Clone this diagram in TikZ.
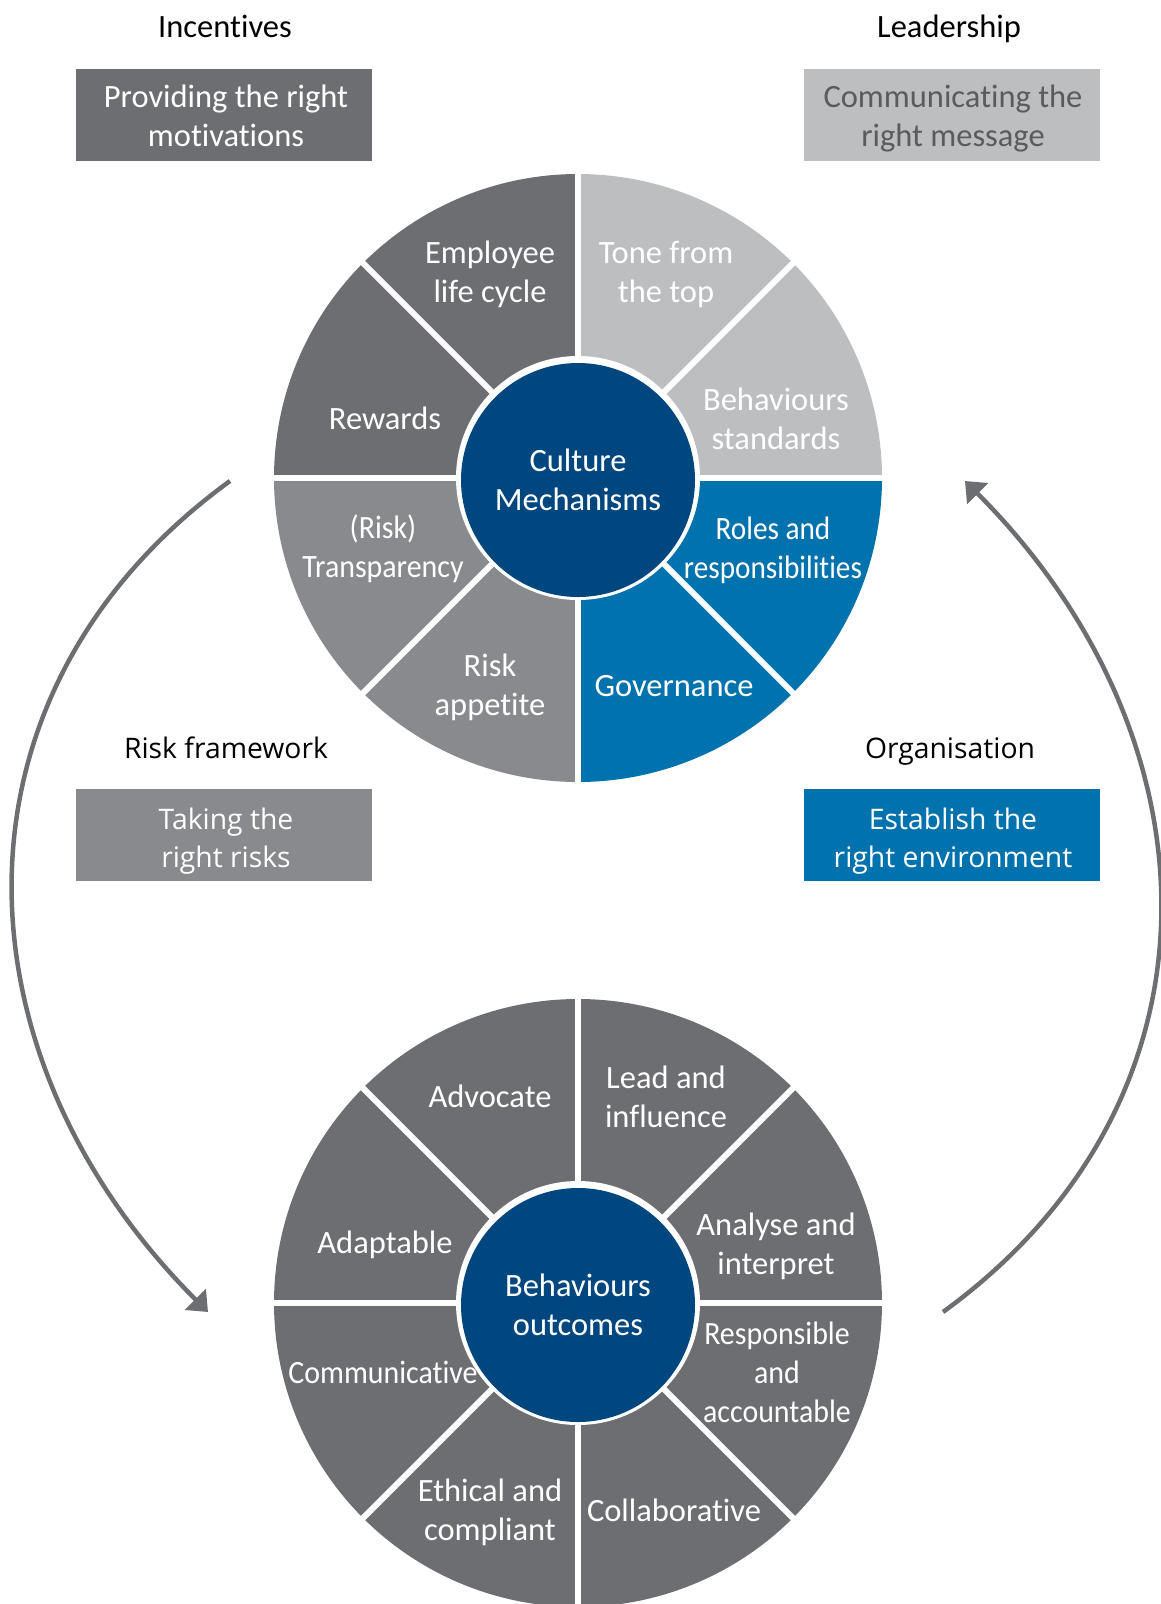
\documentclass[tikz,border=0pt]{standalone}
\usepackage{fontspec}
\setmainfont{Carlito}[Ligatures=NoCommon]
\newfontfamily\narrowfont{Carlito}[Ligatures=NoCommon, FakeStretch=0.92]
\newfontfamily\narrowerfont{Carlito}[Ligatures=NoCommon, FakeStretch=0.90]
\newfontfamily\widefont{Open Sans}
\usetikzlibrary{arrows.meta,calc}
\definecolor{dgray}{HTML}{6D6E71}
\definecolor{mgray}{HTML}{898A8D}
\definecolor{lgray}{HTML}{BCBEC0}
\definecolor{oblue}{HTML}{0072AE}
\definecolor{navy}{HTML}{00467F}
\definecolor{boxtext}{HTML}{5A5B5D}
\newcommand\mysector[4]{\fill[#4] (#1) -- ($(#1)+(#2:304)$) arc[start angle=#2, end angle=#3, radius=304] -- cycle;}
\begin{document}
\begin{tikzpicture}[x=1pt,y=-1pt,
  seclabel/.style={text=white, align=center, inner sep=0pt, font=\fontsize{32.5}{39}\selectfont},
  narrowlabel/.style={seclabel, font=\narrowfont\fontsize{32.5}{39}\selectfont},
  narrowerlabel/.style={seclabel, font=\narrowerfont\fontsize{32.5}{39}\selectfont},
  hub/.style={circle, fill=navy, minimum size=234pt, inner sep=0pt, text=white, align=center, font=\fontsize{32.5}{39}\selectfont},
  sepline/.style={white, line width=6pt},
  heading/.style={anchor=base, inner sep=0pt, text=black, font=\fontsize{32.5}{39}\selectfont},
  wideheading/.style={anchor=base, inner sep=0pt, text=black, font=\widefont\fontsize{28.3}{38}\selectfont},
  boxshape/.style={minimum width=296.6pt, minimum height=92pt, inner sep=0pt},
  boxtextstyle/.style={inner sep=0pt, align=center, text=white, font=\fontsize{32.5}{39}\selectfont},
  wideboxtext/.style={boxtextstyle, font=\widefont\fontsize{28.3}{38.5}\selectfont},
  flow/.style={draw=dgray, line width=4.5pt, -{Triangle[length=18pt,width=29pt]}}
]
\useasboundingbox (0,0) rectangle (1161,1604);

% ---------- top wheel ----------
\coordinate (C1) at (578,478);
\mysector{C1}{-90}{-45}{lgray}
\mysector{C1}{-45}{0}{lgray}
\mysector{C1}{0}{45}{oblue}
\mysector{C1}{45}{90}{oblue}
\mysector{C1}{90}{135}{mgray}
\mysector{C1}{135}{180}{mgray}
\mysector{C1}{180}{225}{dgray}
\mysector{C1}{225}{270}{dgray}
\foreach \a in {0,45,90,135} \draw[sepline] ($(C1)+(\a:306)$) -- ($(C1)+(\a+180:306)$);
\fill[white] (C1) circle[radius=122];
\node[hub] (cm) at (578,480) {Culture\\Mechanisms};

\node[seclabel] (t1) at (490,274.5) {Employee\\life cycle};
\node[seclabel] (t2) at (666,274.5) {Tone from\\the top};
\node[seclabel] (t3) at (385,418) {Rewards};
\node[seclabel] (t4) at (776,419) {Behaviours\\standards};
\node[narrowlabel] (t5) at (383,549) {(Risk)\\Transparency};
\node[narrowerlabel] (t6) at (773,550) {Roles and\\responsibilities};
\node[seclabel] (t7) at (490,687.5) {Risk\\appetite};
\node[seclabel] (t8) at (674,686) {Governance};

% ---------- bottom wheel ----------
\coordinate (C2) at (578,1303);
\foreach \a in {0,45,...,315} {\mysector{C2}{\a}{\a+45}{dgray}}
\foreach \a in {0,45,90,135} \draw[sepline] ($(C2)+(\a:306)$) -- ($(C2)+(\a+180:306)$);
\fill[white] (C2) circle[radius=122];
\node[hub] (bo) at (578,1305) {Behaviours\\outcomes};

\node[seclabel] (u1) at (490,1096.5) {Advocate};
\node[seclabel] (u2) at (666,1096.5) {Lead and\\influence};
\node[seclabel] (u3) at (385,1245) {Adaptable};
\node[seclabel] (u4) at (776,1246.5) {Analyse and\\interpret};
\node[narrowlabel] (u5) at (383,1372) {Communicative};
\node[narrowlabel] (u6) at (777,1372) {Responsible\\and\\accountable};
\node[seclabel] (u7) at (490,1512) {Ethical and\\compliant};
\node[seclabel] (u8) at (674,1510) {Collaborative};

% ---------- headings and boxes ----------
\node[heading] (hinc) at (225,37) {Incentives};
\node[heading] (hlead) at (949,37) {Leadership};
\node[wideheading] (hrisk) at (226,758) {Risk framework};
\node[wideheading] (horg) at (950,758) {Organisation};

\node[boxshape, fill=dgray] (b1) at (224,114.5) {};
\node[boxshape, fill=lgray] (b2) at (952,114.5) {};
\node[boxshape, fill=mgray] (b3) at (224,835) {};
\node[boxshape, fill=oblue] (b4) at (952,835) {};
\node[boxtextstyle] (b1t) at (226,116) {Providing the right\\motivations};
\node[boxtextstyle, text=boxtext] (b2t) at (953,118.5) {Communicating the\\right message};
\node[wideboxtext] (b3t) at (226,841) {Taking the\\right risks};
\node[wideboxtext] (b4t) at (953,841) {Establish the\\right environment};

% ---------- cycle arrows ----------
\coordinate (la1) at (230,481);
\coordinate (la2) at (208,1312);
\draw[flow] (la1) .. controls (-63,694) and (-48,1056) .. (la2);
\coordinate (ra1) at (943,1312);
\coordinate (ra2) at (965,481);
\draw[flow] (ra1) .. controls (1236,1099) and (1221,737) .. (ra2);
\end{tikzpicture}
\end{document}
